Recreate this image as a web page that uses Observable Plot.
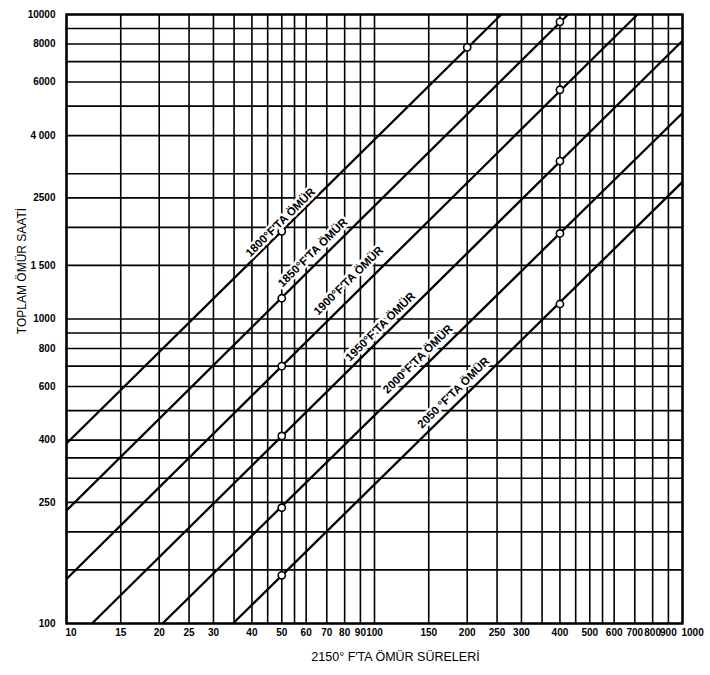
<!DOCTYPE html>
<html>
<head>
<meta charset="utf-8">
<script src="https://cdn.jsdelivr.net/npm/d3@7"></script>
<script src="https://cdn.jsdelivr.net/npm/@observablehq/plot@0.6"></script>
<style>
  html, body { margin: 0; padding: 0; background: #fff; }
  g[aria-label="xticks"] text, g[aria-label="xticks-ends"] text { letter-spacing: -0.6px; }
  g[aria-label="yticks"] text { letter-spacing: -0.3px; }
</style>
</head>
<body>
<div id="chart"></div>
<script>
// Grid values (log-log chart paper)
const xGrid = [10,15,20,25,30,35,40,45,50,55,60,70,80,90,100,150,200,250,300,350,400,450,500,550,600,700,800,900,1000];
const yGrid = [100,150,200,250,300,350,400,500,600,700,800,900,1000,1500,2000,2500,3000,4000,5000,6000,7000,8000,9000,10000];

// Tick labels
const xTicks = [10,15,20,25,30,40,50,60,70,80,90,100,150,200,250,300,400,500,600,700,800,900,1000];
const yTicks = [100,250,400,600,800,1000,1500,2500,4000,6000,8000,10000];
const yTickLabels = ["100","250","400","600","800","1000","1 500","2500","4 000","6000","8000","10000"];

// Life lines (endpoints)
const lineTemps = ["1800","1850","1900","1950","2000","2050"];
const lineX1 = [10, 10, 10, 12.1, 20.5, 34.7];
const lineY1 = [390, 235, 140, 100, 100, 100];
const lineX2 = [258, 425, 714, 1000, 1000, 1000];
const lineY2 = [10000, 10000, 10000, 8200, 4750, 2820];

// Marked points (circles)
const pointX = [200, 50, 50, 400, 50, 400, 50, 400, 50, 400, 50, 400];
const pointY = [7800, 1940, 1170, 9460, 700, 5660, 413, 3300, 240, 1910, 144, 1120];

// Line labels
const labelText = ["1800°F′TA ÖMÜR","1850°F′TA ÖMÜR","1900°F′TA ÖMÜR","1950°F′TA ÖMÜR","2000°F′TA ÖMÜR","2050 °F′TA ÖMÜR"];
const labelX = [49.5, 63, 82.3, 104.5, 138.3, 180.5];
const labelY = [2075, 1652, 1336, 944, 738, 572];

const xTitle = "2150° F′TA ÖMÜR SÜRELERİ";
const yTitle = "TOPLAM ÖMÜR SAATİ";

const lines = lineTemps.map((t, i) => ({t, x1: lineX1[i], y1: lineY1[i], x2: lineX2[i], y2: lineY2[i]}));
const points = pointX.map((x, i) => ({x, y: pointY[i]}));
const labels = labelText.map((s, i) => ({s, x: labelX[i], y: labelY[i]}));
const yLabelMap = new Map(yTicks.map((v, i) => [v, yTickLabels[i]]));
const xMin = xTicks[0], xMax = xTicks[xTicks.length - 1];

const font = "'Liberation Sans', Arial, sans-serif";

const chart = Plot.plot({
  width: 710,
  height: 675,
  marginLeft: 66,
  marginRight: 28,
  marginTop: 14,
  marginBottom: 52,
  style: {fontFamily: font, background: "#fff", color: "#000"},
  x: {type: "log", domain: [10, 1000], axis: null},
  y: {type: "log", domain: [100, 10000], axis: null},
  marks: [
    Plot.ruleX(xGrid, {stroke: "#000", strokeWidth: 1.6}),
    Plot.ruleY(yGrid, {stroke: "#000", strokeWidth: 1.6}),
    Plot.frame({stroke: "#000", strokeWidth: 2.4}),
    Plot.link(lines, {x1: "x1", y1: "y1", x2: "x2", y2: "y2", stroke: "#000", strokeWidth: 2.3}),
    Plot.dot(points, {x: "x", y: "y", r: 3.6, fill: "#fff", stroke: "#000", strokeWidth: 1.6}),
    Plot.text(labels, {x: "x", y: "y", text: "s", rotate: -44.6, fontSize: 11.5, fontWeight: "bold",
      fill: "#000", stroke: "#fff", strokeWidth: 5, textAnchor: "middle"}),
    // x tick labels
    Plot.text(xTicks, {filter: d => d > xMin && d < xMax, x: d => d, frameAnchor: "bottom", dy: 12,
      text: d => String(d), fontSize: 10, fontWeight: "bold", textAnchor: "middle", ariaLabel: "xticks"}),
    Plot.text(xTicks, {filter: d => d === xMin || d === xMax, x: d => d, frameAnchor: "bottom", dy: 12, dx: -1,
      text: d => String(d), fontSize: 10, fontWeight: "bold", textAnchor: "start", ariaLabel: "xticks-ends"}),
    // y tick labels
    Plot.text(yTicks, {y: d => d, frameAnchor: "left", dx: -11, text: d => yLabelMap.get(d),
      fontSize: 10, fontWeight: "bold", textAnchor: "end", ariaLabel: "yticks"}),
    Plot.text([xTitle], {frameAnchor: "bottom", dx: 21, dy: 37, fontSize: 12.5, text: d => d, textAnchor: "middle"}),
    Plot.text([yTitle], {frameAnchor: "left", dx: -44, dy: -48, rotate: -90, fontSize: 12, text: d => d, textAnchor: "middle"})
  ]
});
document.getElementById("chart").appendChild(chart);
</script>
</body>
</html>
